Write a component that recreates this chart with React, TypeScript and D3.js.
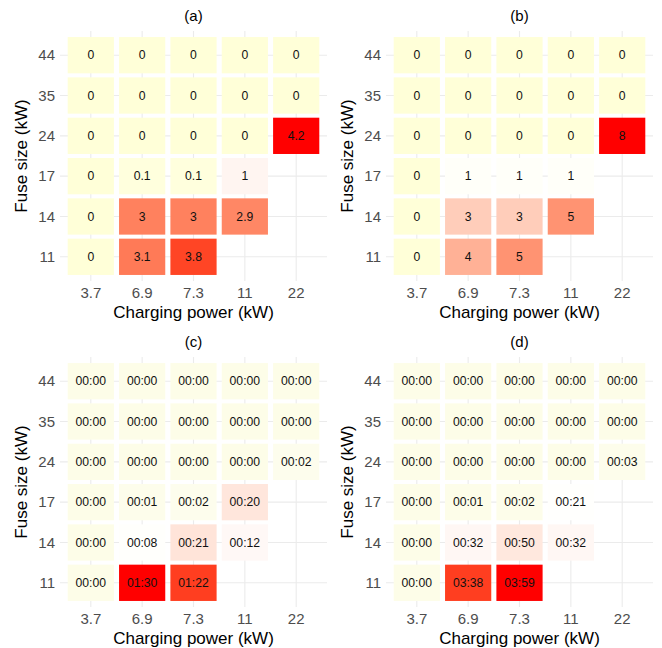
import React from 'react';
import * as d3 from 'd3';

const WIDTH = 662;
const HEIGHT = 648;
const FONT = '"Liberation Sans", Arial, sans-serif';

// categories
const POWERS = ['3.7', '6.9', '7.3', '11', '22'];
const FUSES = ['11', '14', '17', '24', '35', '44'];

// values per fuse row (top to bottom: 44 ... 11), columns follow POWERS; null = no tile
const A_44 = [0, 0, 0, 0, 0];
const A_35 = [0, 0, 0, 0, 0];
const A_24 = [0, 0, 0, 0, 4.2];
const A_17 = [0, 0.1, 0.1, 1, null];
const A_14 = [0, 3, 3, 2.9, null];
const A_11 = [0, 3.1, 3.8, null, null];

const B_44 = [0, 0, 0, 0, 0];
const B_35 = [0, 0, 0, 0, 0];
const B_24 = [0, 0, 0, 0, 8];
const B_17 = [0, 1, 1, 1, null];
const B_14 = [0, 3, 3, 5, null];
const B_11 = [0, 4, 5, null, null];

// minutes
const C_44 = [0, 0, 0, 0, 0];
const C_35 = [0, 0, 0, 0, 0];
const C_24 = [0, 0, 0, 0, 2];
const C_17 = [0, 1, 2, 20, null];
const C_14 = [0, 8, 21, 12, null];
const C_11 = [0, 90, 82, null, null];

const D_44 = [0, 0, 0, 0, 0];
const D_35 = [0, 0, 0, 0, 0];
const D_24 = [0, 0, 0, 0, 3];
const D_17 = [0, 1, 2, 21, null];
const D_14 = [0, 32, 50, 32, null];
const D_11 = [0, 218, 239, null, null];

type Cell = { fuse: string; power: string; value: number };

const toCells = (rows: (number | null)[][]): Cell[] => {
  // rows given top (44) to bottom (11)
  const order = [...FUSES].reverse();
  const out: Cell[] = [];
  rows.forEach((row, r) => {
    row.forEach((v, c) => {
      if (v !== null) out.push({ fuse: order[r], power: POWERS[c], value: v });
    });
  });
  return out;
};

const fmtNum = (v: number) => String(v);
const fmtTime = (m: number) => d3.format('02d')(Math.floor(m / 60)) + ':' + d3.format('02d')(m % 60);

const PANELS = [
  { title: '(a)', dx: 0, dy: 0, low: '#ffffd8', fmt: fmtNum, cells: toCells([A_44, A_35, A_24, A_17, A_14, A_11]) },
  { title: '(b)', dx: 326, dy: 0, low: '#ffffd8', fmt: fmtNum, cells: toCells([B_44, B_35, B_24, B_17, B_14, B_11]) },
  { title: '(c)', dx: 0, dy: 326, low: '#fdfde8', fmt: fmtTime, cells: toCells([C_44, C_35, C_24, C_17, C_14, C_11]) },
  { title: '(d)', dx: 326, dy: 326, low: '#fdfde8', fmt: fmtTime, cells: toCells([D_44, D_35, D_24, D_17, D_14, D_11]) },
];

const X0 = 60;
const X1 = 327;
const Y0 = 31;
const Y1 = 281;

const x = d3.scalePoint<string>().domain(POWERS).range([X0, X1]).padding(0.6);
const y = d3.scalePoint<string>().domain(FUSES).range([Y1, Y0]).padding(0.6);
const TW = x.step() * 0.9;
const TH = y.step() * 0.9;

function Panel({ p }: { p: (typeof PANELS)[number] }) {
  const max = d3.max(p.cells, (d) => d.value) as number;
  const mid = d3.mean(p.cells, (d) => d.value) as number;
  const color = d3
    .scaleLinear<string>()
    .domain([0, mid, max])
    .range([p.low, '#ffffff', '#ff0000'])
    .interpolate(d3.interpolateLab);
  const cx = (X0 + X1) / 2;
  const cy = (Y0 + Y1) / 2;
  return (
    <g transform={`translate(${p.dx},${p.dy})`} fontFamily={FONT}>
      {POWERS.map((k) => (
        <line key={'v' + k} x1={x(k)} x2={x(k)} y1={Y0} y2={Y1} stroke="#ebebeb" strokeWidth={1.1} />
      ))}
      {FUSES.map((k) => (
        <line key={'h' + k} x1={X0} x2={X1} y1={y(k)} y2={y(k)} stroke="#ebebeb" strokeWidth={1.1} />
      ))}
      {p.cells.map((d) => (
        <rect
          key={d.fuse + '-' + d.power}
          x={(x(d.power) as number) - TW / 2}
          y={(y(d.fuse) as number) - TH / 2}
          width={TW}
          height={TH}
          fill={color(d.value)}
        />
      ))}
      {p.cells.map((d) => (
        <text
          key={'t' + d.fuse + '-' + d.power}
          x={x(d.power)}
          y={(y(d.fuse) as number) + 4.3}
          textAnchor="middle"
          fontSize={12.2}
          fill="#111"
        >
          {p.fmt(d.value)}
        </text>
      ))}
      {POWERS.map((k) => (
        <text key={'xt' + k} x={x(k)} y={298} textAnchor="middle" fontSize={15} fill="#4d4d4d">
          {k}
        </text>
      ))}
      {FUSES.map((k) => (
        <text key={'yt' + k} x={55} y={(y(k) as number) + 5.3} textAnchor="end" fontSize={15} fill="#4d4d4d">
          {k}
        </text>
      ))}
      <text x={cx} y={318} textAnchor="middle" fontSize={17} fill="#000">
        Charging power (kW)
      </text>
      <text transform={`translate(27,${cy}) rotate(-90)`} textAnchor="middle" fontSize={17} fill="#000">
        Fuse size (kW)
      </text>
      <text x={cx} y={21} textAnchor="middle" fontSize={15} fill="#000">
        {p.title}
      </text>
    </g>
  );
}

export default function App() {
  return (
    <svg
      width={WIDTH}
      height={HEIGHT}
      style={{ position: 'absolute', left: 0, top: 0, background: '#fff' }}
    >
      <rect width={WIDTH} height={HEIGHT} fill="#fff" />
      {PANELS.map((p) => (
        <Panel key={p.title} p={p} />
      ))}
    </svg>
  );
}
